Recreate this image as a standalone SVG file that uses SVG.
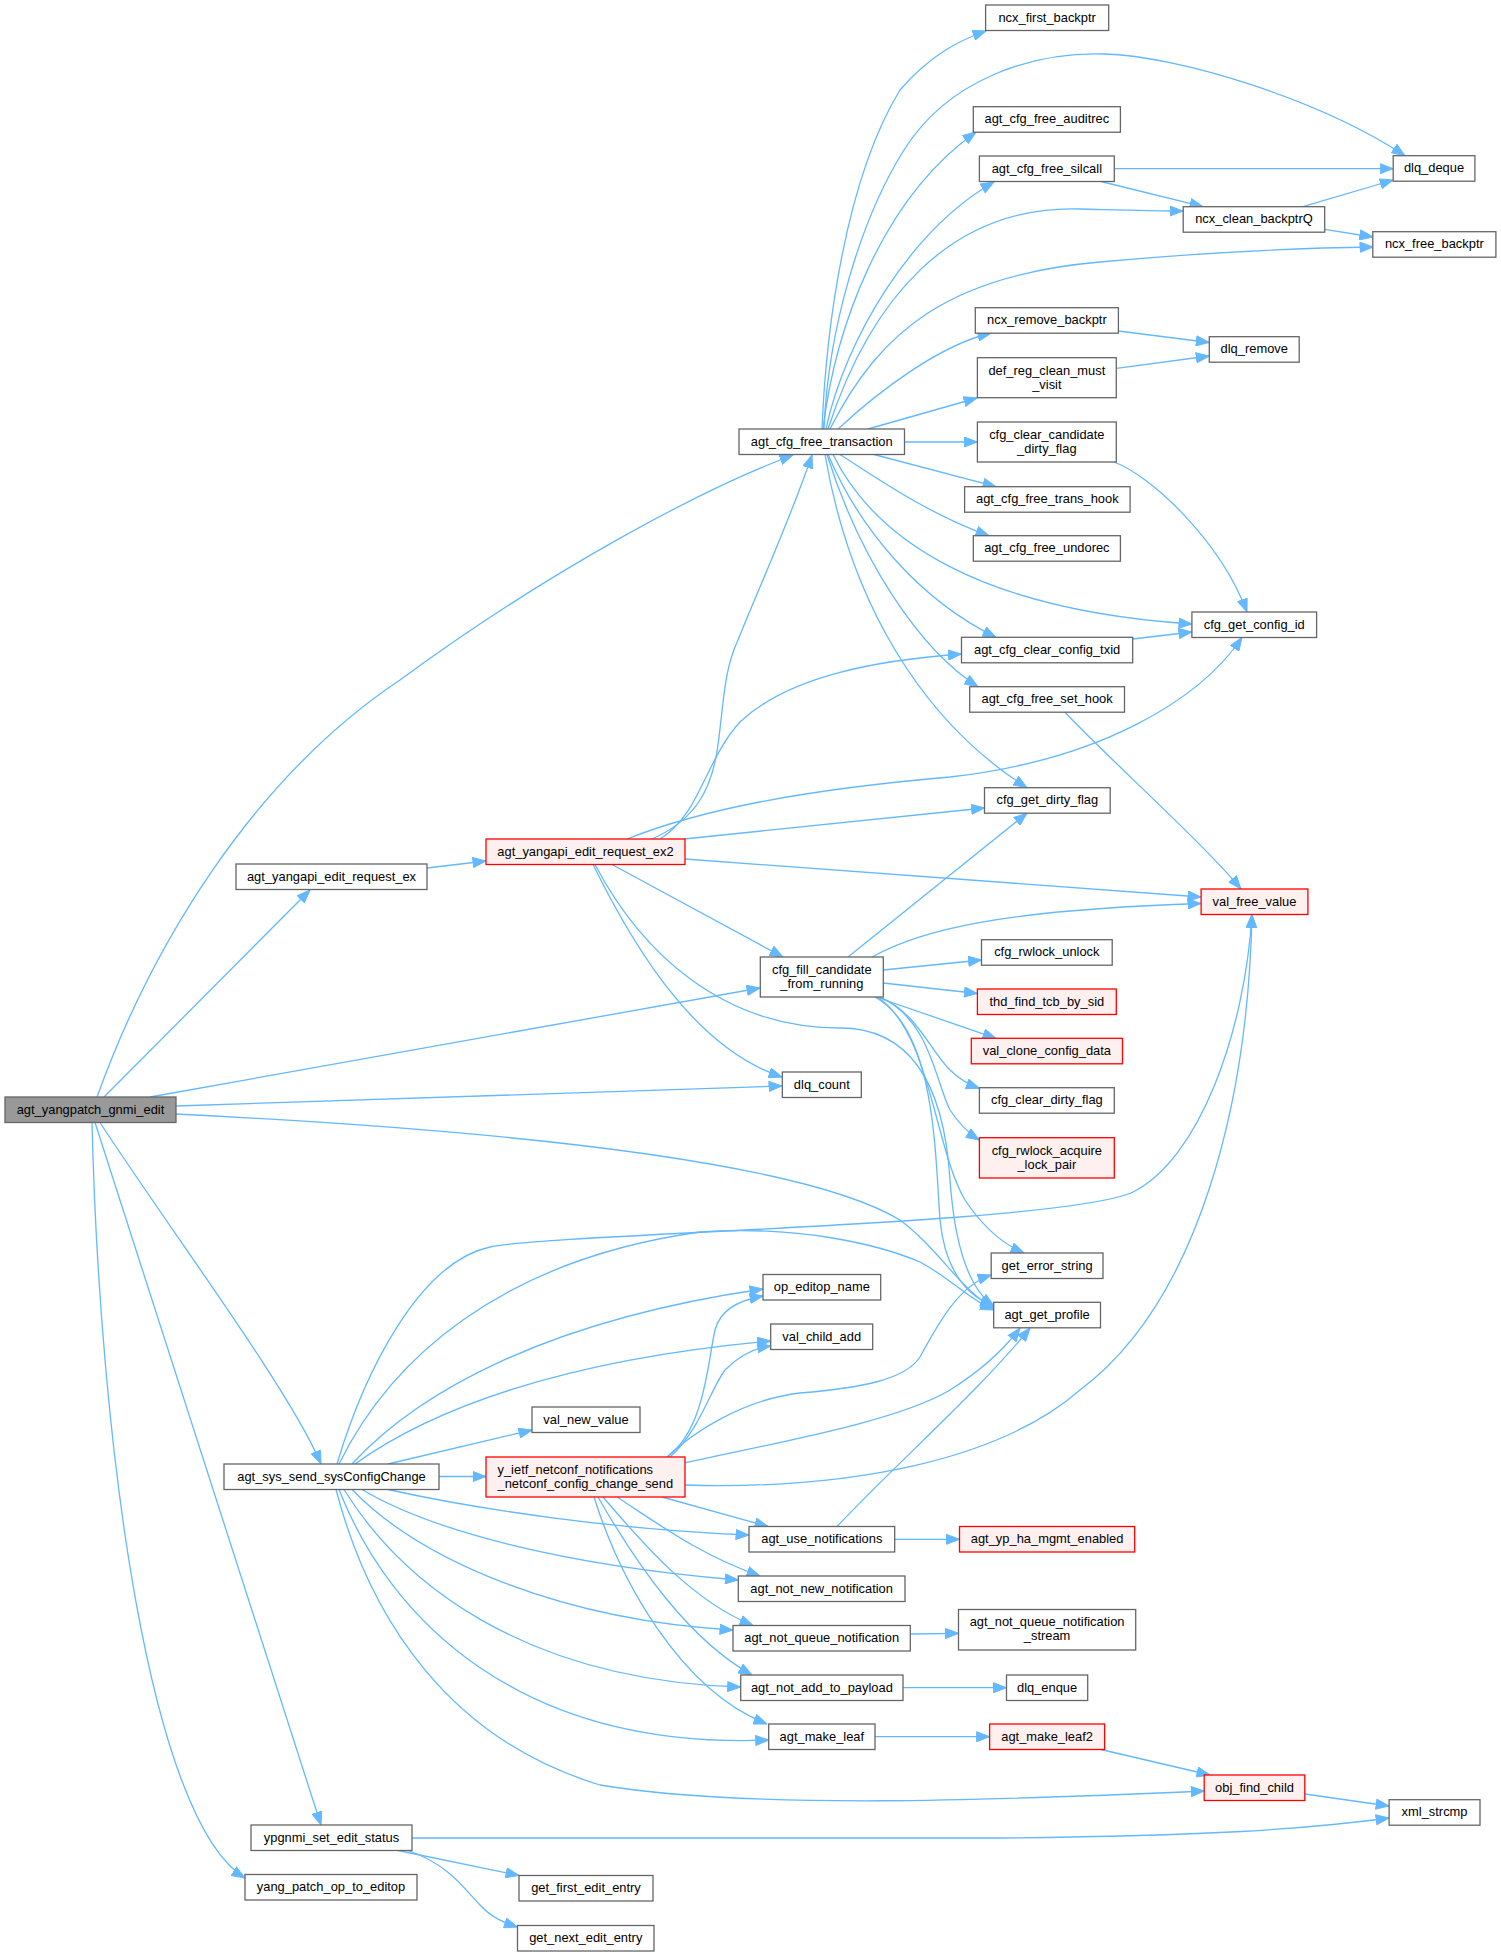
<svg xmlns="http://www.w3.org/2000/svg" width="1501" height="1956" viewBox="0 0 1501 1956">
<defs>
<marker id="a" markerUnits="userSpaceOnUse" markerWidth="14" markerHeight="11" refX="13.5" refY="5.5" orient="auto" viewBox="0 0 14 11">
<path d="M0.5,0.5 L13.5,5.5 L0.5,10.5 z" fill="#63b8ff" stroke="#63b8ff" stroke-width="1"/>
</marker>
<style>
.node rect{fill:#ffffff;stroke:#666666;stroke-width:1.3}
.node.red rect{fill:#fff0f0;stroke:#ff0000}
.node.root rect{fill:#999999;stroke:#666666}
.node text{font-family:"Liberation Sans",Arial,Helvetica,sans-serif;font-size:12.9px;fill:#000000;text-anchor:middle}
.node text.l{text-anchor:start}
#edges path{fill:none;stroke:#63b8ff;stroke-width:1.3;marker-end:url(#a)}
</style>
</defs>
<rect x="0" y="0" width="1501" height="1956" fill="#ffffff"/>
<g id="edges">
<path d="M97,1097 C150,950 250,780 400,680 C550,570 700,490 793,455"/>
<path d="M104,1097 L310,890"/>
<path d="M150,1097 L760,988"/>
<path d="M176,1106 L782,1086"/>
<path d="M176,1114 C500,1130 800,1160 900,1220 C940,1250 960,1290 994,1308"/>
<path d="M100,1122.5 C170,1230 290,1390 321,1464"/>
<path d="M95,1122.5 L321,1825"/>
<path d="M92,1122.5 C100,1450 150,1820 245,1878"/>
<path d="M427,868 L486,861"/>
<path d="M652,839 C695,820 712,790 718,745 C724,700 724,670 738,640 C760,585 790,520 812,455"/>
<path d="M660,839 C700,815 705,760 740,722 C790,675 880,660 961.5,654"/>
<path d="M627,839 C700,810 800,790 950,777 C1100,760 1200,700 1242,637.5"/>
<path d="M684,839 L984.5,808"/>
<path d="M685,859 L1201,897"/>
<path d="M612,864.5 L783,957"/>
<path d="M593,864.5 C640,960 700,1050 782,1077"/>
<path d="M595,864.5 C640,950 720,1028 840,1028 C920,1028 945,1100 950,1180 C955,1250 970,1290 994,1306"/>
<path d="M822,429 C826,330 845,180 900,90 C930,55 960,40 986,31"/>
<path d="M824,429 C828,330 860,220 904,150 C948,80 1030,52 1104,54 C1180,56 1320,100 1405,155.7"/>
<path d="M823,429 C835,330 880,200 976,132"/>
<path d="M826,429 C845,340 910,230 994,182"/>
<path d="M828,429 C870,300 950,205 1080,209 C1120,210 1150,211 1183,211"/>
<path d="M830,429 C880,330 950,275 1100,262 C1200,253 1290,248 1373,247"/>
<path d="M838,429 C880,390 940,345 991,333"/>
<path d="M868,429 L977,398"/>
<path d="M904.5,442 L977.4,442"/>
<path d="M874,454.5 L996,486.7"/>
<path d="M840,454.5 C880,480 930,515 989,535.7"/>
<path d="M833,454.5 C875,540 980,610 1192,624"/>
<path d="M828,454.5 C860,530 920,600 996,637.3"/>
<path d="M827,454.5 C860,560 920,650 978,686.7"/>
<path d="M825,454.5 C850,600 920,720 1027,787.7"/>
<path d="M1114.3,168.7 L1393.2,168.7"/>
<path d="M1101,181.5 L1203,206.7"/>
<path d="M1303,206.7 L1393.2,180"/>
<path d="M1324.7,229.3 L1372.8,237"/>
<path d="M1118.4,331 L1209.3,342.5"/>
<path d="M1116.3,368.3 L1209.3,356"/>
<path d="M1114,462 C1150,475 1220,540 1247,612"/>
<path d="M1132.7,639 L1191.9,632"/>
<path d="M1065,712.2 C1110,760 1200,840 1241,889"/>
<path d="M848,957 L1027,813.2"/>
<path d="M872,957 C920,930 1000,910 1201,903.5"/>
<path d="M883.3,970 L981.5,960"/>
<path d="M883.3,983 L977.4,993.5"/>
<path d="M876,997 L996,1038.3"/>
<path d="M879,997 C915,1010 930,1050 950,1070 C960,1080 970,1085 979.4,1088.3"/>
<path d="M880,997 C930,1020 935,1080 950,1110 C960,1125 968,1133 979.4,1140"/>
<path d="M877,997 C930,1030 935,1150 965,1200 C985,1230 1005,1245 1024,1253"/>
<path d="M875,997 C935,1030 935,1150 940,1220 C945,1270 965,1295 993.7,1306"/>
<path d="M388,1464 L532,1430"/>
<path d="M439,1476.5 L486,1476.5"/>
<path d="M352,1464 C420,1390 550,1320 763,1289"/>
<path d="M355,1464 C430,1410 560,1360 770.7,1341"/>
<path d="M337,1464 C365,1370 420,1262 490,1247 C560,1233 1050,1225 1131,1193 C1200,1160 1245,1030 1252,914.5"/>
<path d="M339,1464 C390,1360 500,1260 700,1232 C800,1225 880,1245 920,1262 C950,1278 970,1300 993.7,1310"/>
<path d="M388,1489.5 C480,1510 620,1530 749,1535"/>
<path d="M362,1489.5 C430,1530 560,1565 738.3,1580"/>
<path d="M352,1489.5 C420,1560 560,1620 733,1630"/>
<path d="M344,1489.5 C400,1580 520,1680 740.7,1687"/>
<path d="M339,1489.5 C390,1620 520,1750 768.7,1740"/>
<path d="M336,1489.5 C370,1620 450,1740 600,1785 C750,1810 1000,1800 1204.2,1791"/>
<path d="M667,1457 C705,1430 708,1360 715,1330 C720,1310 740,1300 763,1296"/>
<path d="M670,1457 C700,1430 710,1390 725,1370 C740,1355 755,1348 770.7,1346"/>
<path d="M667,1457 C690,1435 740,1400 800,1393 C860,1388 905,1380 920,1357 C940,1320 960,1285 991.2,1275"/>
<path d="M684,1463 C790,1440 900,1420 950,1390 C985,1368 1005,1348 1020,1328"/>
<path d="M685,1485 C850,1490 1000,1460 1080,1390 C1200,1300 1248,1100 1252,914.5"/>
<path d="M662,1497 L768,1526.5"/>
<path d="M617,1497 C660,1525 700,1555 760,1576"/>
<path d="M603,1497 C640,1540 690,1600 753,1625.5"/>
<path d="M598,1497 C640,1570 690,1640 752,1675"/>
<path d="M594,1497 C620,1580 680,1690 767,1724"/>
<path d="M894.7,1539.3 L959.5,1539.3"/>
<path d="M837,1526.5 C900,1460 980,1390 1030,1328"/>
<path d="M910.3,1634 L958.5,1633.3"/>
<path d="M903,1687.7 L1006.5,1687.7"/>
<path d="M875,1736.7 L989.6,1736.7"/>
<path d="M1101,1749.5 L1210,1775"/>
<path d="M1304.8,1794 L1389.1,1806"/>
<path d="M412,1838 L1000,1838 C1200,1836 1300,1830 1389.1,1818"/>
<path d="M398,1850.5 L519,1875.5"/>
<path d="M408,1850.5 C450,1865 465,1890 480,1905 C492,1918 505,1923 517.5,1927"/>
</g>
<g id="n_agt_yangpatch_gnmi_edit" class="node root"><rect x="5" y="1097" width="171" height="25.5"/><text x="90.5" y="1113.5">agt_yangpatch_gnmi_edit</text></g>
<g id="n_agt_yangapi_edit_request_ex" class="node"><rect x="236" y="864" width="191" height="25.5"/><text x="331.5" y="880.5">agt_yangapi_edit_request_ex</text></g>
<g id="n_agt_sys_send_sysConfigChange" class="node"><rect x="224" y="1464" width="215" height="25.5"/><text x="331.5" y="1480.5">agt_sys_send_sysConfigChange</text></g>
<g id="n_ypgnmi_set_edit_status" class="node"><rect x="251" y="1825" width="161" height="25.5"/><text x="331.5" y="1841.5">ypgnmi_set_edit_status</text></g>
<g id="n_yang_patch_op_to_editop" class="node"><rect x="245" y="1874.5" width="172" height="25.5"/><text x="331" y="1891">yang_patch_op_to_editop</text></g>
<g id="n_agt_yangapi_edit_request_ex2" class="node red"><rect x="486" y="839" width="199" height="25.5"/><text x="585.5" y="855.5">agt_yangapi_edit_request_ex2</text></g>
<g id="n_val_new_value" class="node"><rect x="532" y="1407" width="108" height="25.5"/><text x="586" y="1423.5">val_new_value</text></g>
<g id="n_y_ietf_netconf_notifications_netconf_config_change_send" class="node red"><rect x="486" y="1457" width="199" height="40"/><text class="l" x="497.5" y="1474">y_ietf_netconf_notifications</text><text class="l" x="497.5" y="1488">_netconf_config_change_send</text></g>
<g id="n_get_first_edit_entry" class="node"><rect x="519" y="1875.5" width="134" height="25.5"/><text x="586" y="1892">get_first_edit_entry</text></g>
<g id="n_get_next_edit_entry" class="node"><rect x="517.5" y="1925.5" width="136.5" height="25.5"/><text x="585.75" y="1942">get_next_edit_entry</text></g>
<g id="n_agt_cfg_free_transaction" class="node"><rect x="739" y="429" width="165.5" height="25.5"/><text x="821.75" y="445.5">agt_cfg_free_transaction</text></g>
<g id="n_cfg_fill_candidate_from_running" class="node"><rect x="760.3" y="957" width="123" height="40"/><text x="821.8" y="974">cfg_fill_candidate</text><text x="821.8" y="988">_from_running</text></g>
<g id="n_dlq_count" class="node"><rect x="782.3" y="1072" width="79" height="25.5"/><text x="821.8" y="1088.5">dlq_count</text></g>
<g id="n_op_editop_name" class="node"><rect x="763" y="1274.5" width="117.7" height="25.5"/><text x="821.85" y="1291">op_editop_name</text></g>
<g id="n_val_child_add" class="node"><rect x="770.7" y="1324" width="102" height="25.5"/><text x="821.7" y="1340.5">val_child_add</text></g>
<g id="n_agt_use_notifications" class="node"><rect x="749" y="1526.5" width="145.7" height="25.5"/><text x="821.85" y="1543">agt_use_notifications</text></g>
<g id="n_agt_not_new_notification" class="node"><rect x="738.3" y="1576" width="166.7" height="25.5"/><text x="821.65" y="1592.5">agt_not_new_notification</text></g>
<g id="n_agt_not_queue_notification" class="node"><rect x="733" y="1625.5" width="177.3" height="25.5"/><text x="821.65" y="1642">agt_not_queue_notification</text></g>
<g id="n_agt_not_add_to_payload" class="node"><rect x="740.7" y="1675" width="162.3" height="25.5"/><text x="821.85" y="1691.5">agt_not_add_to_payload</text></g>
<g id="n_agt_make_leaf" class="node"><rect x="768.7" y="1724" width="106.3" height="25.5"/><text x="821.85" y="1740.5">agt_make_leaf</text></g>
<g id="n_ncx_first_backptr" class="node"><rect x="985.6" y="5" width="123.1" height="25.5"/><text x="1047.15" y="21.5">ncx_first_backptr</text></g>
<g id="n_agt_cfg_free_auditrec" class="node"><rect x="973.3" y="106.7" width="147.1" height="25.5"/><text x="1046.85" y="123.2">agt_cfg_free_auditrec</text></g>
<g id="n_agt_cfg_free_silcall" class="node"><rect x="979.4" y="156" width="134.9" height="25.5"/><text x="1046.85" y="172.5">agt_cfg_free_silcall</text></g>
<g id="n_ncx_remove_backptr" class="node"><rect x="975.3" y="307.7" width="143.1" height="25.5"/><text x="1046.85" y="324.2">ncx_remove_backptr</text></g>
<g id="n_def_reg_clean_must_visit" class="node"><rect x="977.4" y="357.7" width="138.9" height="40"/><text x="1046.85" y="374.7">def_reg_clean_must</text><text x="1046.85" y="388.7">_visit</text></g>
<g id="n_cfg_clear_candidate_dirty_flag" class="node"><rect x="977.4" y="422" width="138.9" height="40"/><text x="1046.85" y="439">cfg_clear_candidate</text><text x="1046.85" y="453">_dirty_flag</text></g>
<g id="n_agt_cfg_free_trans_hook" class="node"><rect x="964.6" y="486.7" width="165.5" height="25.5"/><text x="1047.35" y="503.2">agt_cfg_free_trans_hook</text></g>
<g id="n_agt_cfg_free_undorec" class="node"><rect x="973.3" y="535.7" width="147.1" height="25.5"/><text x="1046.85" y="552.2">agt_cfg_free_undorec</text></g>
<g id="n_agt_cfg_clear_config_txid" class="node"><rect x="961.5" y="637.3" width="171.2" height="25.5"/><text x="1047.1" y="653.8">agt_cfg_clear_config_txid</text></g>
<g id="n_agt_cfg_free_set_hook" class="node"><rect x="969.7" y="686.7" width="154.8" height="25.5"/><text x="1047.1" y="703.2">agt_cfg_free_set_hook</text></g>
<g id="n_cfg_get_dirty_flag" class="node"><rect x="984.5" y="787.7" width="125.7" height="25.5"/><text x="1047.35" y="804.2">cfg_get_dirty_flag</text></g>
<g id="n_cfg_rwlock_unlock" class="node"><rect x="981.5" y="939.7" width="130.7" height="25.5"/><text x="1046.85" y="956.2">cfg_rwlock_unlock</text></g>
<g id="n_thd_find_tcb_by_sid" class="node red"><rect x="977.4" y="989" width="138.9" height="25.5"/><text x="1046.85" y="1005.5">thd_find_tcb_by_sid</text></g>
<g id="n_val_clone_config_data" class="node red"><rect x="971.3" y="1038.3" width="151.2" height="25.5"/><text x="1046.9" y="1054.8">val_clone_config_data</text></g>
<g id="n_cfg_clear_dirty_flag" class="node"><rect x="979.4" y="1087.7" width="134.9" height="25.5"/><text x="1046.85" y="1104.2">cfg_clear_dirty_flag</text></g>
<g id="n_cfg_rwlock_acquire_lock_pair" class="node red"><rect x="979.4" y="1137.7" width="134.9" height="40.3"/><text x="1046.85" y="1154.7">cfg_rwlock_acquire</text><text x="1046.85" y="1168.7">_lock_pair</text></g>
<g id="n_get_error_string" class="node"><rect x="991.2" y="1253" width="111.8" height="25.5"/><text x="1047.1" y="1269.5">get_error_string</text></g>
<g id="n_agt_get_profile" class="node"><rect x="993.7" y="1302.3" width="106.8" height="25.5"/><text x="1047.1" y="1318.8">agt_get_profile</text></g>
<g id="n_agt_yp_ha_mgmt_enabled" class="node red"><rect x="959.5" y="1526.5" width="175.2" height="25.5"/><text x="1047.1" y="1543">agt_yp_ha_mgmt_enabled</text></g>
<g id="n_agt_not_queue_notification_stream" class="node"><rect x="958.5" y="1609.5" width="177.2" height="40.5"/><text x="1047.1" y="1626.3">agt_not_queue_notification</text><text x="1047.1" y="1640.3">_stream</text></g>
<g id="n_dlq_enque" class="node"><rect x="1006.5" y="1675" width="81.2" height="25.5"/><text x="1047.1" y="1691.5">dlq_enque</text></g>
<g id="n_agt_make_leaf2" class="node red"><rect x="989.6" y="1724" width="115" height="25.5"/><text x="1047.1" y="1740.5">agt_make_leaf2</text></g>
<g id="n_ncx_clean_backptrQ" class="node"><rect x="1183.2" y="206.7" width="141.5" height="25.5"/><text x="1253.95" y="223.2">ncx_clean_backptrQ</text></g>
<g id="n_dlq_remove" class="node"><rect x="1209.3" y="336.7" width="89.9" height="25.5"/><text x="1254.25" y="353.2">dlq_remove</text></g>
<g id="n_cfg_get_config_id" class="node"><rect x="1191.9" y="612" width="124.7" height="25.5"/><text x="1254.25" y="628.5">cfg_get_config_id</text></g>
<g id="n_val_free_value" class="node red"><rect x="1201.1" y="889" width="106.8" height="25.5"/><text x="1254.5" y="905.5">val_free_value</text></g>
<g id="n_obj_find_child" class="node red"><rect x="1204.2" y="1775" width="100.6" height="25.5"/><text x="1254.5" y="1791.5">obj_find_child</text></g>
<g id="n_dlq_deque" class="node"><rect x="1393.2" y="155.7" width="81.7" height="25.5"/><text x="1434" y="172.2">dlq_deque</text></g>
<g id="n_ncx_free_backptr" class="node"><rect x="1372.8" y="231.7" width="123.1" height="25.5"/><text x="1434.35" y="248.2">ncx_free_backptr</text></g>
<g id="n_xml_strcmp" class="node"><rect x="1389.1" y="1799.7" width="90.9" height="25.5"/><text x="1434.55" y="1816.2">xml_strcmp</text></g>
</svg>
